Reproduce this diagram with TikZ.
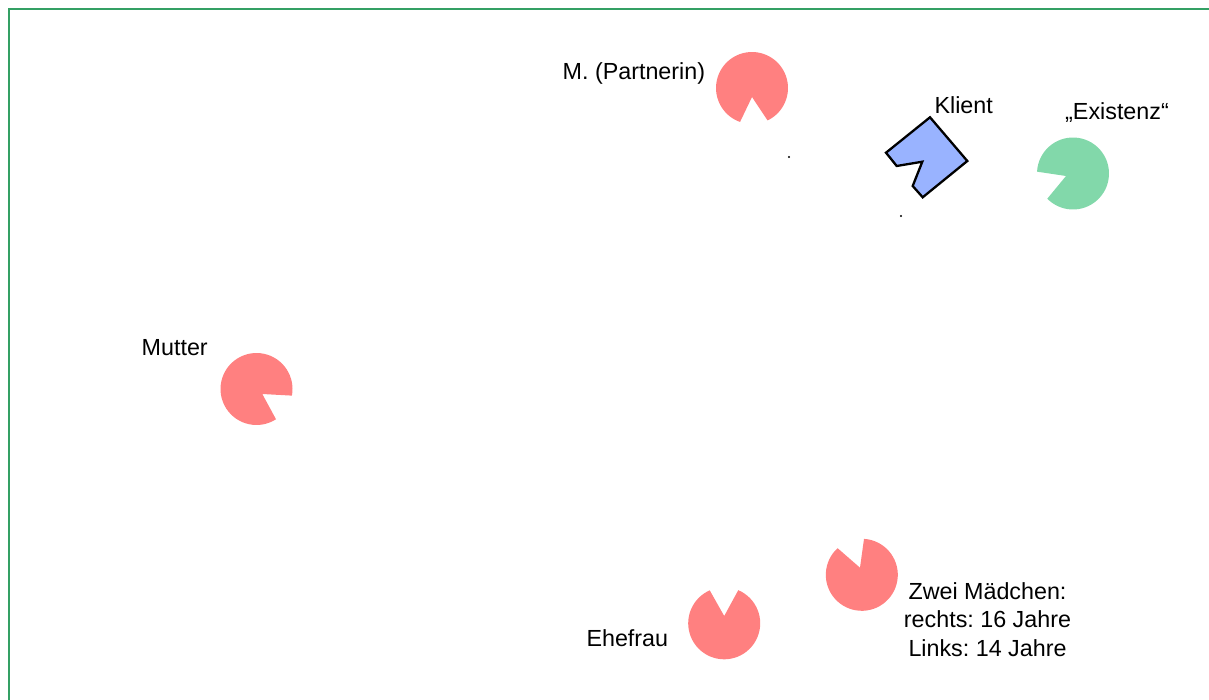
\documentclass[tikz,border=0pt]{standalone}
\usepackage{fontspec}
\setmainfont{Liberation Sans}
\frenchspacing
\definecolor{framegreen}{RGB}{52,160,100}
\definecolor{pinkc}{RGB}{255,128,128}
\definecolor{greenc}{RGB}{130,216,170}
\definecolor{bluec}{RGB}{153,179,255}
% #1 centre, #2 notch apex (relative), #3/#4 notch edge angles, #5 colour
\newcommand\figpie[5]{%
  \fill[#5,shift={#1}] #2 -- (#4:36) arc[start angle=#4, end angle={#3+360}, radius=36] -- cycle;}
\tikzset{
  lbl/.style={font=\fontsize{23.3}{28.5}\selectfont, inner sep=0pt, anchor=base, align=center},
  dotmark/.style={fill=black}
}
\begin{document}
\begin{tikzpicture}[x=1pt,y=-1pt]
\useasboundingbox (0,0) rectangle (1209,700);
% frame
\draw[framegreen, line width=2.6pt] (9,9) rectangle (1230,720);

% persons
\figpie{(752,88)}{(0,9)}{64.4}{109.4}{pinkc}
\figpie{(256.5,389)}{(5.8,5)}{10.6}{57.2}{pinkc}
\figpie{(1073,173.5)}{(-7,2.5)}{135.6}{182.9}{greenc}
\figpie{(724.2,623.3)}{(0,-7.3)}{246.3}{293}{pinkc}
\figpie{(861.8,574.8)}{(-1.8,-7.1)}{227.7}{273.5}{pinkc}

% client
\filldraw[fill=bluec, draw=black, line width=2.3pt, line join=miter]
  (930,117.3) -- (967.3,161) -- (922.7,197.3) -- (912.7,186)
  -- (922.3,161.7) -- (896.7,166) -- (886,152.7) -- cycle;

% small marks
\fill[dotmark] (789,157) circle (1.2);
\fill[dotmark] (901,216) circle (1.2);

% labels
\node[lbl] (partnerin) at (633.9,80) {M. (Partnerin)};
\node[lbl] (klient) at (963.7,113.3) {Klient};
\node[lbl] (existenz) at (1117,119.3) {„Existenz“};
\node[lbl] (mutter) at (174.7,355.7) {Mutter};
\node[lbl] (ehefrau) at (627.3,646.3) {Ehefrau};
\node[lbl, anchor=north] (maedchen) at (987.5,582) {Zwei Mädchen:\\rechts: 16 Jahre\\Links: 14 Jahre};
\end{tikzpicture}
\end{document}
